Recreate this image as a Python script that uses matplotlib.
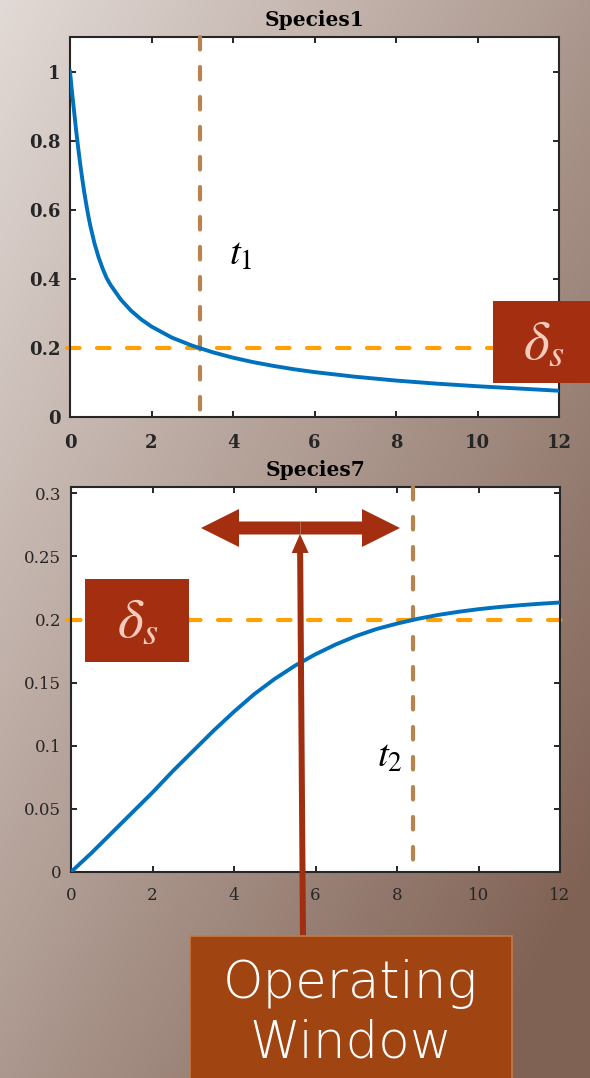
import numpy as np
import matplotlib
matplotlib.use("Agg")
import matplotlib.pyplot as plt
from matplotlib.patches import Rectangle, FancyArrow

# ---- data -------------------------------------------------------------
t_species1 = [0, 0.05, 0.1, 0.15, 0.2, 0.25, 0.3, 0.35, 0.4, 0.45, 0.5, 0.6,
              0.7, 0.8, 0.9, 1.0, 1.25, 1.5, 1.75, 2.0, 2.5, 3.0, 3.5, 4.0,
              4.5, 5.0, 5.5, 6.0, 7.0, 8.0, 9.0, 10.0, 11.0, 12.0]
y_species1 = [1.00, 0.94, 0.885, 0.83, 0.78, 0.733, 0.69, 0.65, 0.615, 0.582,
              0.553, 0.503, 0.463, 0.43, 0.402, 0.3815, 0.3396, 0.3075,
              0.2823, 0.2618, 0.2298, 0.2065, 0.1875, 0.1717, 0.1587, 0.1477,
              0.1382, 0.130, 0.1165, 0.1055, 0.0965, 0.089, 0.0825, 0.076]

t_species7 = [0, 0.5, 1, 1.5, 2, 2.5, 3, 3.5, 4, 4.5, 5, 5.5, 6, 6.5, 7, 7.5,
              8, 8.5, 9, 9.5, 10, 10.5, 11, 11.5, 12]
y_species7 = [0, 0.015, 0.031, 0.047, 0.063, 0.080, 0.096, 0.112, 0.127, 0.141,
              0.153, 0.1635, 0.1725, 0.1803, 0.187, 0.1925, 0.1968, 0.2005,
              0.2036, 0.2061, 0.2082, 0.2099, 0.2113, 0.2125, 0.2135]

delta_s = 0.2          # threshold
t1_value = 3.19        # crossing time, species 1
t2_value = 8.39        # crossing time, species 7

x_ticks = [0, 2, 4, 6, 8, 10, 12]
y_ticks_1 = [0, 0.2, 0.4, 0.6, 0.8, 1]
y_ticks_1_labels = ["0", "0.2", "0.4", "0.6", "0.8", "1"]
y_ticks_7 = [0, 0.05, 0.1, 0.15, 0.2, 0.25, 0.3]
y_ticks_7_labels = ["0", "0.05", "0.1", "0.15", "0.2", "0.25", "0.3"]

titles = ["Species1", "Species7"]

# ---- style ------------------------------------------------------------
plt.rcParams["mathtext.fontset"] = "stix"

W, H = 590, 1078
BLUE = "#0072BD"
ORANGE = "#FF9F00"
TAN = "#B8834E"
BOX_RED = "#A32F10"
BOX_ORANGE = "#A04412"
TXT = "#262626"

fig = plt.figure(figsize=(W / 100, H / 100), dpi=100)

# gradient backdrop
bg = fig.add_axes([0, 0, 1, 1], zorder=0)
gx, gy = np.meshgrid(np.linspace(0, 1, 300), np.linspace(0, 1, 500))
s = np.clip(0.55 * gx + 0.55 * gy, 0, 1)[..., None]
c0 = np.array([226, 218, 214]) / 255
c1 = np.array([128, 98, 84]) / 255
bg.imshow(c0 * (1 - s) + c1 * s, aspect="auto", extent=[0, 1, 1, 0])
bg.set_xlim(0, 1)
bg.set_ylim(1, 0)
bg.axis("off")


def px_rect(left, top, right, bottom):
    return [left / W, 1 - bottom / H, (right - left) / W, (bottom - top) / H]


def style_axes(ax, bold, yt, ytl, size, xpad):
    ax.set_facecolor("white")
    for sp in ax.spines.values():
        sp.set_color(TXT)
        sp.set_linewidth(1.5)
    ax.tick_params(direction="in", length=4, width=1.4, color=TXT,
                   top=True, right=True, labelsize=size, labelcolor=TXT)
    ax.tick_params(axis="y", pad=7)
    ax.tick_params(axis="x", pad=xpad)
    ax.set_xticks(x_ticks)
    ax.set_xticklabels([str(v) for v in x_ticks])
    ax.set_yticks(yt)
    ax.set_yticklabels(ytl)
    for lab in ax.get_xticklabels() + ax.get_yticklabels():
        lab.set_family("DejaVu Serif")
        lab.set_fontweight("bold" if bold else "normal")


dash_kw = dict(linestyle=(0, (3.0, 4.2)), dash_capstyle="round", linewidth=3,
               clip_on=False)

# ---- Species1 ---------------------------------------------------------
ax1 = fig.add_axes(px_rect(70, 37, 559, 417), zorder=1)
ax1.set_xlim(0, 12)
ax1.set_ylim(0, 1.1)
style_axes(ax1, True, y_ticks_1, y_ticks_1_labels, 13, 12)
ax1.plot([-0.08, 12.05], [delta_s, delta_s], color=ORANGE, zorder=2, **dash_kw)
ax1.plot([t1_value, t1_value], [1.1, 0.02], color=TAN, zorder=3, **dash_kw)
ax1.plot(t_species1, y_species1, color=BLUE, linewidth=2.8, zorder=4,
         solid_joinstyle="round")
ax1.set_title(titles[0], fontsize=14.5, fontweight="bold", family="DejaVu Serif",
              color="black", pad=8)
ax1.text(4.2, 0.44, r"$t_1$", fontsize=28, ha="center", va="baseline",
         color="black", zorder=5)

# ---- Species7 ---------------------------------------------------------
ax7 = fig.add_axes(px_rect(71, 487, 560, 872), zorder=1)
ax7.set_xlim(0, 12)
ax7.set_ylim(0, 0.305)
style_axes(ax7, False, y_ticks_7, y_ticks_7_labels, 12, 10.5)
ax7.plot([-0.08, 12.05], [delta_s, delta_s], color=ORANGE, zorder=2, **dash_kw)
ax7.plot([t2_value, t2_value], [0.305, 0.008], color=TAN, zorder=3, **dash_kw)
ax7.plot(t_species7, y_species7, color=BLUE, linewidth=2.8, zorder=4,
         solid_joinstyle="round")
ax7.set_title(titles[1], fontsize=14.5, fontweight="bold", family="DejaVu Serif",
              color="black", pad=8)
ax7.text(7.82, 0.083, r"$t_2$", fontsize=28, ha="center", va="baseline",
         color="black", zorder=5)

# ---- callouts (figure pixel space) -----------------------------------
ov = fig.add_axes([0, 0, 1, 1], zorder=5)
ov.set_xlim(0, W)
ov.set_ylim(H, 0)
ov.axis("off")
ov.patch.set_alpha(0)

# threshold labels
for (l, tp, r, b) in [(493, 301, 592, 383), (85, 579, 189, 662)]:
    ov.add_patch(Rectangle((l, tp), r - l, b - tp, facecolor=BOX_RED,
                           edgecolor="none"))
    ov.text((l + r) / 2 + 1, (tp + b) / 2 + 1, r"$\delta_s$", fontsize=40,
            color="#F6CBBE", ha="center", va="center")

# operating window double arrow
cx, cy = 300.5, 528
for tip in (201, 400):
    ov.add_patch(FancyArrow(cx, cy, tip - cx, 0, width=13, head_width=38,
                            head_length=38, length_includes_head=True,
                            color=BOX_RED, linewidth=0))

# pointer from the label box
ov.add_patch(FancyArrow(303, 937, -3, 534 - 937, width=6, head_width=17,
                        head_length=19, length_includes_head=True,
                        color="#A02E10", linewidth=0))

# operating window label
ov.add_patch(Rectangle((190, 936), 322, 160, facecolor=BOX_ORANGE,
                       edgecolor="#C47A45", linewidth=1.2))
ov.text(350, 998, "Operating", fontsize=37, color="white", ha="center",
        va="baseline", family="DejaVu Sans", fontweight=200)
ov.text(351, 1057, "Window", fontsize=37, color="white", ha="center",
        va="baseline", family="DejaVu Sans", fontweight=200)

fig.savefig("out.png", dpi=100)
